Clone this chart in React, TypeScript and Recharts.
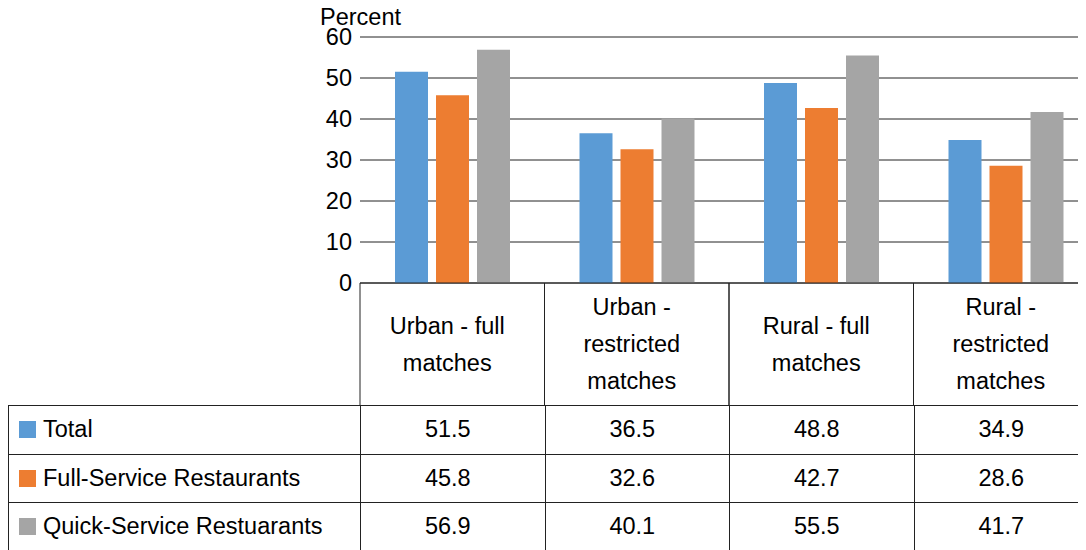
import { BarChart, Bar, XAxis, YAxis, CartesianGrid } from 'recharts';

const categories = [
  'Urban - full matches',
  'Urban - restricted matches',
  'Rural - full matches',
  'Rural - restricted matches',
];
// how each category label wraps in the header cell
const categoryLines = [
  ['Urban - full', 'matches'],
  ['Urban -', 'restricted', 'matches'],
  ['Rural - full', 'matches'],
  ['Rural -', 'restricted', 'matches'],
];
const totalValues = [51.5, 36.5, 48.8, 34.9];
const fullServiceValues = [45.8, 32.6, 42.7, 28.6];
const quickServiceValues = [56.9, 40.1, 55.5, 41.7];
const yTicks = [0, 10, 20, 30, 40, 50, 60];

const series = [
  { key: 'total', name: 'Total', color: '#5B9BD5', values: totalValues },
  { key: 'full', name: 'Full-Service Restaurants', color: '#ED7D31', values: fullServiceValues },
  { key: 'quick', name: 'Quick-Service Restuarants', color: '#A5A5A5', values: quickServiceValues },
];

const data = categories.map((category, i) => {
  const row: Record<string, string | number> = { category };
  series.forEach((s) => (row[s.key] = s.values[i]));
  return row;
});

const FONT = '"Liberation Sans", Arial, Helvetica, sans-serif';
const FONT_SIZE = 23.5;
const CHART_W = 1090;
const CHART_H = 397;
const Y_AXIS_W = 352;
const HEADER_H = 122;
const BAND_W = (CHART_W - Y_AXIS_W) / categories.length;
const LINE_H = 37;
const TEXT_SHIFT = 5; // cell text sits a bit left of centre in the original

const HeaderTick = (props: any) => {
  const { x, y, payload } = props;
  const lines = categoryLines[categories.indexOf(payload.value)] || [payload.value];
  const mid = y + HEADER_H / 2;
  const first = mid - ((lines.length - 1) * LINE_H) / 2;
  return (
    <g>
      <line x1={x - BAND_W / 2} x2={x - BAND_W / 2} y1={y} y2={y + HEADER_H} stroke="#222" />
      <line x1={x + BAND_W / 2} x2={x + BAND_W / 2} y1={y} y2={y + HEADER_H} stroke="#222" />
      {lines.map((t: string, i: number) => (
        <text
          key={i}
          x={x - TEXT_SHIFT}
          y={first + i * LINE_H}
          dy="0.36em"
          textAnchor="middle"
          fontSize={FONT_SIZE}
          fontFamily={FONT}
          fill="#000"
        >
          {t}
        </text>
      ))}
    </g>
  );
};

const cellBorder = '1px solid #222';

export default function App() {
  return (
    <div style={{ position: 'relative', width: 1078, height: 542, fontFamily: FONT }}>
      <div
        style={{
          position: 'absolute',
          left: 312,
          top: -2,
          fontSize: FONT_SIZE,
          lineHeight: `${FONT_SIZE}px`,
          color: '#000',
          zIndex: 1,
        }}
      >
        Percent
      </div>
      <div style={{ width: 1078, height: 542, overflow: 'hidden' }}>
        <BarChart
          width={CHART_W}
          height={CHART_H}
          data={data}
          margin={{ top: 29, right: 0, bottom: 0, left: 0 }}
          barSize={33}
          barGap={8}
        >
          <CartesianGrid vertical={false} stroke="#222" />
          <XAxis
            dataKey="category"
            height={HEADER_H}
            interval={0}
            tickSize={0}
            tickMargin={0}
            axisLine={{ stroke: '#222' }}
            tickLine={false}
            tick={<HeaderTick />}
          />
          <YAxis
            width={Y_AXIS_W}
            domain={[0, 60]}
            ticks={yTicks}
            axisLine={false}
            tickLine={false}
            tickSize={0}
            tickMargin={8}
            tick={{ fontSize: FONT_SIZE, fill: '#000', fontFamily: FONT }}
          />
          {series.map((s) => (
            <Bar key={s.key} dataKey={s.key} name={s.name} fill={s.color} isAnimationActive={false} />
          ))}
        </BarChart>
        <table
          style={{
            borderCollapse: 'collapse',
            tableLayout: 'fixed',
            width: CHART_W,
            fontSize: FONT_SIZE,
            color: '#000',
          }}
        >
          <colgroup>
            <col style={{ width: Y_AXIS_W }} />
            {categories.map((c) => (
              <col key={c} style={{ width: BAND_W }} />
            ))}
          </colgroup>
          <tbody>
            {series.map((s) => (
              <tr key={s.key} style={{ height: 48.6 }}>
                <td style={{ border: cellBorder, padding: '0 0 0 10px', whiteSpace: 'nowrap' }}>
                  <span
                    style={{
                      display: 'inline-block',
                      width: 17,
                      height: 17,
                      background: s.color,
                      marginRight: 7,
                      verticalAlign: '-1px',
                    }}
                  />
                  {s.name}
                </td>
                {s.values.map((v, i) => (
                  <td
                    key={i}
                    style={{ border: cellBorder, padding: `0 ${TEXT_SHIFT * 2}px 0 0`, textAlign: 'center' }}
                  >
                    {v.toFixed(1)}
                  </td>
                ))}
              </tr>
            ))}
          </tbody>
        </table>
      </div>
    </div>
  );
}
